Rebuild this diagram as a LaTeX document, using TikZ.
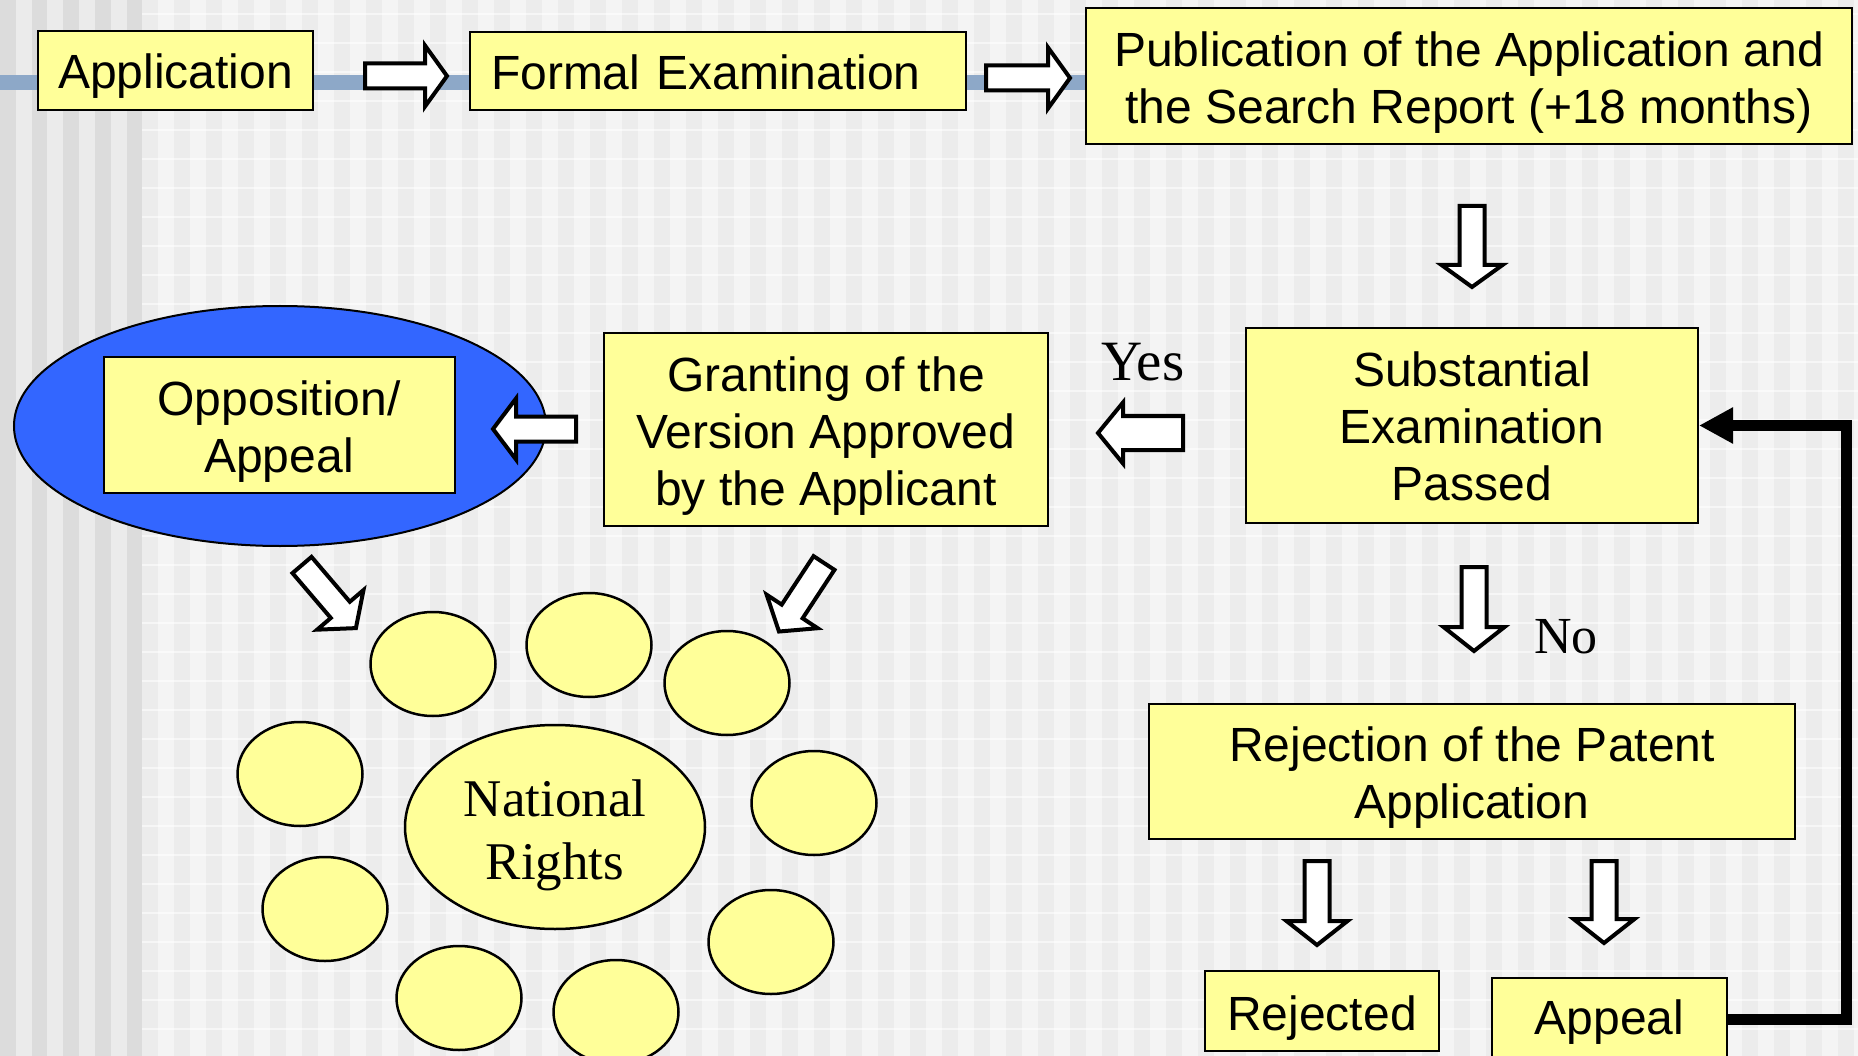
\documentclass[tikz,border=0pt]{standalone}
\usepackage{fontspec}
\setmainfont{Liberation Sans}
\newfontfamily\serifface{Liberation Serif}
\usetikzlibrary{shapes.geometric,arrows.meta}
\pgfdeclarelayer{bg}
\pgfdeclarelayer{mid}
\pgfsetlayers{bg,mid,main}
\definecolor{boxyellow}{HTML}{FFFF99}
\definecolor{oppblue}{HTML}{3366FF}
\definecolor{lineblue}{HTML}{8DA8C8}
\definecolor{bgbase}{HTML}{F4F4F4}
\definecolor{bgstripe}{HTML}{ECECEC}
\definecolor{leftdark}{HTML}{DCDCDC}
\definecolor{leftlight}{HTML}{EBEBEB}
% lower a block of centred lines by #1 pt without changing its reported size
\newcommand\lowerlines[2]{\raisebox{-#1pt}[\height][\depth]{\begin{tabular}{@{}c@{}}#2\end{tabular}}}
\tikzset{
  box/.style={rectangle, draw=black, fill=boxyellow, line width=2pt, inner sep=0pt,
    align=center, font=\fontsize{48}{57}\selectfont},
  dot/.style={ellipse, draw=black, fill=boxyellow, line width=2.5pt, inner sep=0pt,
    minimum width=125pt, minimum height=104pt},
  lbl/.style={font=\serifface\fontsize{52}{60}\selectfont, inner sep=0pt, anchor=base},
  arrowline/.style={draw=black, fill=white, line width=4pt, line join=miter, miter limit=20},
  pics/blockarrow/.style n args={4}{code={
    \draw[arrowline] (0,-#2) -- ({#1-#4},-#2) -- ({#1-#4},-#3) -- (#1,0)
      -- ({#1-#4},#3) -- ({#1-#4},#2) -- (0,#2) -- cycle;
  }},
  fbline/.style={draw=black, line width=11pt, line join=miter,
    -{Triangle[length=34pt,width=34pt]}},
  blueline/.style={draw=lineblue, line width=15pt}
}
\begin{document}
\begin{tikzpicture}[x=1pt,y=-1pt]
\useasboundingbox (0,0) rectangle (1858,1056);
% background
\begin{pgfonlayer}{bg}
  \fill[bgbase] (0,0) rectangle (1858,1056);
  \foreach \x in {142,174,...,1858} \fill[bgstripe] (\x,0) rectangle ++(16,1056);
  \foreach \y in {14,43,...,1056} \draw[white, opacity=0.55, line width=1.5pt] (142,\y) -- (1858,\y);
  \fill[leftlight] (0,0) rectangle (142,1056);
  \foreach \x in {0,31.7,...,140} \fill[leftdark] (\x,0) rectangle ++(15.5,1056);
\end{pgfonlayer}

% top row
\node[box, minimum width=275pt, minimum height=79pt] (app) at (175.5,70.5) {\lowerlines{7}{Application}};
\node[box, text width=454pt, align=left, inner xsep=21pt, minimum height=78pt] (formal) at (718,71) {\lowerlines{7}{Formal Examination}};
\node[box, minimum width=766pt, minimum height=136pt] (pub) at (1469,76)
  {\lowerlines{8}{Publication of the Application and\\the Search Report (+18 months)}};

% middle row
\node[box, minimum width=452pt, minimum height=195pt] (subst) at (1472,425.5)
  {\lowerlines{7}{Substantial\\Examination\\Passed}};
\node[box, minimum width=444pt, minimum height=193pt] (grant) at (826,429.5)
  {\lowerlines{8}{Granting of the\\Version Approved\\by the Applicant}};
\node[ellipse, draw=black, fill=oppblue, line width=2pt, minimum width=532pt, minimum height=240pt] (oppell) at (280,426) {};
\node[box, minimum width=351pt, minimum height=136pt] (oppo) at (279,425) {\lowerlines{8}{Opposition/\\Appeal}};

% lower right
\node[box, minimum width=646pt, minimum height=135pt] (reject) at (1472,771.5)
  {\lowerlines{7}{Rejection of the Patent\\Application}};
\node[box, minimum width=234pt, minimum height=80pt] (rejected) at (1322,1011) {\lowerlines{8}{Rejected}};
\node[box, minimum width=235pt, minimum height=82pt] (appeal) at (1609.5,1019) {\lowerlines{4}{Appeal}};

% labels
\node[lbl, font=\serifface\fontsize{57}{64}\selectfont] (yes) at (1143,381) {Yes};
\node[lbl] (no) at (1566,653) {No};

% national rights cluster
\node[ellipse, draw=black, fill=boxyellow, line width=2.5pt, inner sep=0pt,
  minimum width=300pt, minimum height=204pt, align=center,
  font=\serifface\fontsize{53}{63}\selectfont] (nat) at (555,827) {\lowerlines{8}{National\\Rights}};
\node[dot] (c1) at (433,664) {};
\node[dot] (c2) at (589,645) {};
\node[dot] (c3) at (727,683) {};
\node[dot] (c4) at (300,774) {};
\node[dot] (c5) at (814,803) {};
\node[dot] (c6) at (325,909) {};
\node[dot] (c7) at (771,942) {};
\node[dot] (c8) at (459,998) {};
\node[dot] (c9) at (616,1012) {};

% blue timeline behind the top row
\begin{pgfonlayer}{mid}
  \coordinate (lstart) at (0,82.5);
  \draw[blueline] (lstart) -- (lstart -| pub.west);
\end{pgfonlayer}

% block arrows
\pic at (365,76) {blockarrow={82}{12.5}{30.5}{22}};
\pic at (986,78) {blockarrow={84}{12.5}{30.5}{22}};
\pic[rotate=-90] at (1472,206) {blockarrow={81}{12.5}{30.5}{22}};
\pic[rotate=180] at (1183,433) {blockarrow={85}{17}{30.5}{25}};
\pic[rotate=180] at (576,429) {blockarrow={83}{12.5}{30.5}{23}};
\pic[rotate=-90] at (1474,567) {blockarrow={84}{12.5}{30.5}{24}};
\pic[rotate=-90] at (1317,861) {blockarrow={84}{12.5}{30.5}{24}};
\pic[rotate=-90] at (1604,861) {blockarrow={82}{12.5}{30.5}{24}};
\pic[rotate=-49.5] at (302,565) {blockarrow={83}{12.5}{30.5}{24}};
\pic[rotate=-123.3] at (824,563) {blockarrow={82}{12.5}{30.5}{24}};

% feedback connector from Appeal back to Substantial Examination
\coordinate (fb) at (1846.5,700);
\draw[fbline] (appeal.east) -| (fb) |- (subst.east);
\end{tikzpicture}
\end{document}
